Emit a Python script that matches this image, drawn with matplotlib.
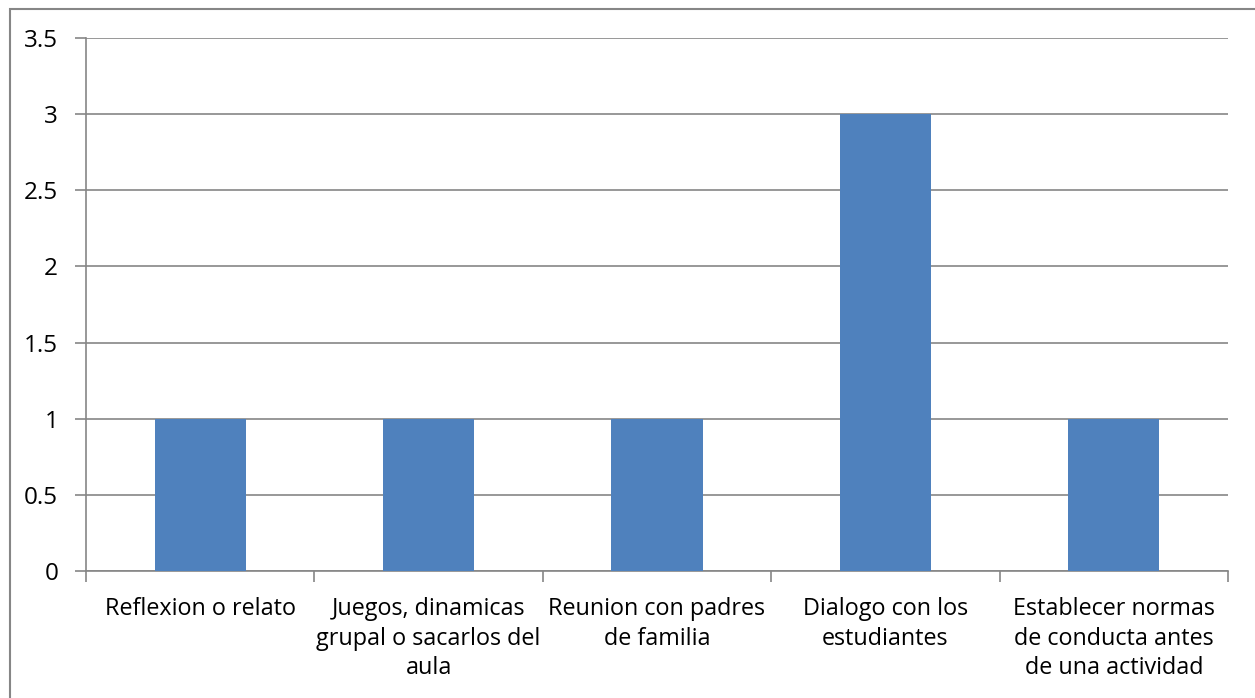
import matplotlib
matplotlib.use("Agg")
import matplotlib.pyplot as plt
from matplotlib.patches import Rectangle

categories = [
    "Reflexion o relato",
    "Juegos, dinamicas\ngrupal o sacarlos del\naula",
    "Reunion con padres\nde familia",
    "Dialogo con los\nestudiantes",
    "Establecer normas\nde conducta antes\nde una actividad",
]
values = [1, 1, 1, 3, 1]
yticks = [0, 0.5, 1, 1.5, 2, 2.5, 3, 3.5]
ytick_labels = ["0", "0.5", "1", "1.5", "2", "2.5", "3", "3.5"]

W, H = 1255, 698
plt.rcParams["font.family"] = ["Open Sans", "DejaVu Sans"]
fig = plt.figure(figsize=(W / 100, H / 100), dpi=100)

left, right, top, bottom = 86, 1228, 38, 571
ax = fig.add_axes([left / W, 1 - bottom / H, (right - left) / W, (bottom - top) / H])

grid_color = "#868686"
x = list(range(len(categories)))
ax.bar(x, values, width=0.4, color="#4F81BD", zorder=3)
ax.set_xlim(-0.5, len(categories) - 0.5)
ax.set_ylim(0, 3.5)
ax.set_yticks(yticks)
ax.set_yticklabels(ytick_labels, fontsize=17.5)
ax.yaxis.grid(True, color=grid_color, linewidth=1.2, zorder=0)

ax.set_xticks([i - 0.5 for i in range(len(categories) + 1)])
ax.set_xticklabels([])
ax.set_xticks(x, minor=True)
ax.set_xticklabels(categories, minor=True, fontsize=16.8, linespacing=1.3)
ax.tick_params(axis="x", which="minor", length=0, pad=19)
ax.tick_params(axis="x", which="major", length=8, color=grid_color, width=1.2)
ax.tick_params(axis="y", length=8, color=grid_color, width=1.2, pad=12)

for side in ("top", "right"):
    ax.spines[side].set_visible(False)
for side in ("left", "bottom"):
    ax.spines[side].set_color(grid_color)
    ax.spines[side].set_linewidth(1.2)

# outer chart border
fig.patches.append(Rectangle((10 / W, -0.01), 1.1, 1 - 9 / H + 0.01,
                             transform=fig.transFigure, fill=False,
                             edgecolor=grid_color, linewidth=1.5))

fig.savefig("out.png", dpi=100)
